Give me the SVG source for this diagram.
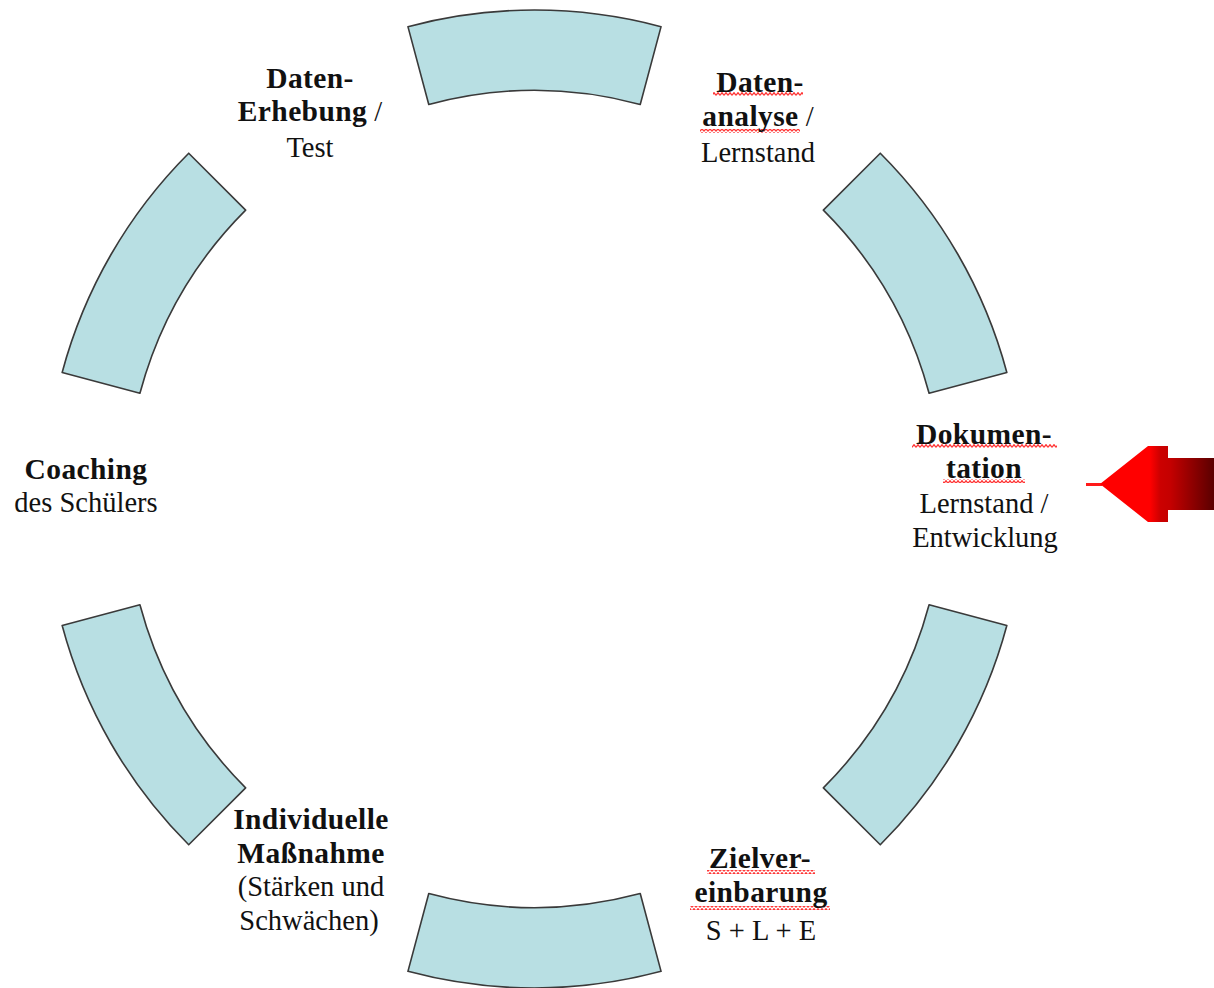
<svg xmlns="http://www.w3.org/2000/svg" width="1214" height="988" viewBox="0 0 1214 988">
  <style>
    .seg { fill: #b8dfe3; stroke: #3a3a3a; stroke-width: 1.6; stroke-linejoin: round; }
    .t { font-family: "Liberation Serif", "Times New Roman", serif; font-size: 28.5px; fill: #111; text-anchor: middle; }
    .b { font-weight: bold; font-size: 29.5px; letter-spacing: 0.4px; }
    .sq { fill: url(#squig); }
  </style>
  <defs>
    <pattern id="squig" patternUnits="userSpaceOnUse" width="4" height="4">
      <polyline points="0,3.3 2,0.7 4,3.3" fill="none" stroke="#ff3434" stroke-width="1.3"/>
    </pattern>
    <linearGradient id="arrowGrad" gradientUnits="userSpaceOnUse" x1="1086" y1="0" x2="1214" y2="0">
      <stop offset="0" stop-color="#ff0000"/>
      <stop offset="0.5" stop-color="#ff0000"/>
      <stop offset="0.58" stop-color="#cc0000"/>
      <stop offset="0.66" stop-color="#c40000"/>
      <stop offset="1" stop-color="#5a0000"/>
    </linearGradient>
  </defs>
  <rect width="1214" height="988" fill="#ffffff"/>

  <g id="seg-top"><path class="seg" d="M661.06,26.66 A489,489 0 0 0 407.94,26.66 L428.77,104.42 A408.5,408.5 0 0 1 640.23,104.42 Z"/></g>
  <g id="seg-top-right"><path class="seg" d="M1006.84,372.44 A489,489 0 0 0 880.28,153.22 L823.35,210.15 A408.5,408.5 0 0 1 929.08,393.27 Z"/></g>
  <g id="seg-bottom-right"><path class="seg" d="M880.28,844.78 A489,489 0 0 0 1006.84,625.56 L929.08,604.73 A408.5,408.5 0 0 1 823.35,787.85 Z"/></g>
  <g id="seg-bottom"><path class="seg" d="M407.94,971.34 A489,489 0 0 0 661.06,971.34 L640.23,893.58 A408.5,408.5 0 0 1 428.77,893.58 Z"/></g>
  <g id="seg-bottom-left"><path class="seg" d="M62.16,625.56 A489,489 0 0 0 188.72,844.78 L245.65,787.85 A408.5,408.5 0 0 1 139.92,604.73 Z"/></g>
  <g id="seg-top-left"><path class="seg" d="M188.72,153.22 A489,489 0 0 0 62.16,372.44 L139.92,393.27 A408.5,408.5 0 0 1 245.65,210.15 Z"/></g>

  <g id="label-datenerhebung">
    <text class="t b" x="310" y="88">Daten-</text>
    <text class="t" x="310" y="121"><tspan class="b">Erhebung</tspan> /</text>
    <text class="t" x="310" y="157">Test</text>
  </g>

  <g id="label-datenanalyse">
    <rect class="sq" x="713" y="92" width="90" height="4"/>
    <rect class="sq" x="700" y="129" width="100" height="4"/>
    <text class="t b" x="760" y="92">Daten-</text>
    <text class="t" x="758" y="126"><tspan class="b">analyse</tspan> /</text>
    <text class="t" x="758" y="162">Lernstand</text>
  </g>

  <g id="label-dokumentation">
    <rect class="sq" x="912" y="444" width="145" height="4"/>
    <rect class="sq" x="943" y="479" width="82" height="4"/>
    <text class="t b" x="984" y="444">Dokumen-</text>
    <text class="t b" x="984" y="478">tation</text>
    <text class="t" x="984" y="513">Lernstand /</text>
    <text class="t" x="985" y="547">Entwicklung</text>
  </g>

  <g id="label-zielvereinbarung">
    <rect class="sq" x="707" y="870" width="108" height="4"/>
    <rect class="sq" x="690" y="906" width="140" height="4"/>
    <text class="t b" x="760" y="868">Zielver-</text>
    <text class="t b" x="761" y="902">einbarung</text>
    <text class="t" x="761" y="940">S + L + E</text>
  </g>

  <g id="label-massnahme">
    <text class="t b" x="311" y="829">Individuelle</text>
    <text class="t b" x="311" y="863">Maßnahme</text>
    <text class="t" x="311" y="896">(Stärken und</text>
    <text class="t" x="309" y="930">Schwächen)</text>
  </g>

  <g id="label-coaching">
    <text class="t b" x="86" y="479">Coaching</text>
    <text class="t" x="86" y="512">des Schülers</text>
  </g>

  <g id="connectors">
    <rect x="1086" y="483" width="16" height="3" fill="#ff1a1a"/>
    <polygon points="1100,484 1148,446 1168,446 1168,458 1214,458 1214,510 1168,510 1168,522 1148,522" fill="url(#arrowGrad)"/>
  </g>
</svg>
